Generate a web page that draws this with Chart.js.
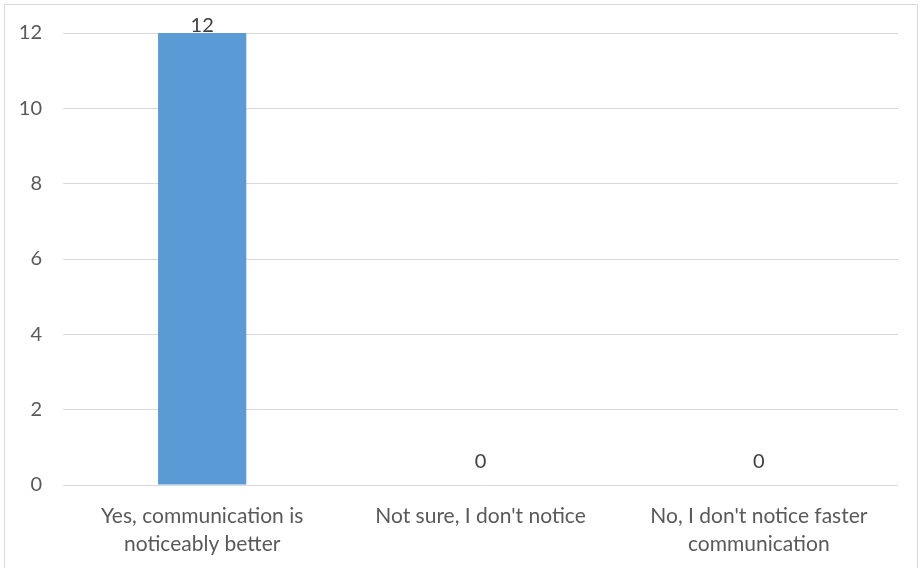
<!DOCTYPE html>
<html>
<head>
<meta charset="utf-8">
<script src="https://cdn.jsdelivr.net/npm/chart.js@4/dist/chart.umd.min.js"></script>
<style>
  html, body { margin: 0; padding: 0; background: #fff; }
  #wrap { position: relative; width: 922px; height: 568px; overflow: hidden; }
  #frame { position: absolute; left: 4px; top: 4px; width: 914px; height: 600px; border: 1px solid #d9d9d9; box-sizing: border-box; }
  canvas { position: absolute; left: 0; top: 0; }
</style>
</head>
<body>
<div id="wrap">
  <div id="frame"></div>
  <canvas id="chart" width="922" height="568"></canvas>
</div>
<script>
const categories = [
  ["Yes, communication is", "noticeably better"],
  ["Not sure, I don't notice"],
  ["No, I don't notice faster", "communication"]
];
const values = [12, 0, 0];
const yTicks = [0, 2, 4, 6, 8, 10, 12];

const FONT = "Lato, 'Open Sans', sans-serif";

// value labels above each bar, like Excel's "outside end"
const valueLabels = {
  id: "valueLabels",
  afterDatasetsDraw(chart) {
    const ctx = chart.ctx;
    const meta = chart.getDatasetMeta(0);
    ctx.save();
    ctx.font = "20px " + FONT;
    ctx.fillStyle = "#404040";
    ctx.textAlign = "center";
    ctx.textBaseline = "alphabetic";
    meta.data.forEach((bar, i) => {
      const y = Math.max(bar.y - 17, chart.chartArea.top - 1);
      ctx.fillText(String(values[i]), bar.x, y);
    });
    ctx.restore();
  }
};

new Chart(document.getElementById("chart"), {
  type: "bar",
  data: {
    labels: categories,
    datasets: [{
      data: values,
      backgroundColor: "#5B9BD5",
      borderWidth: 0,
      barPercentage: 0.317,
      categoryPercentage: 1
    }]
  },
  options: {
    responsive: false,
    animation: false,
    layout: { padding: { top: 33, right: 24, left: 0, bottom: 0 } },
    plugins: { legend: { display: false }, tooltip: { enabled: false } },
    scales: {
      x: {
        grid: { display: false, drawTicks: false },
        border: { display: false },
        ticks: {
          color: "#595959",
          font: { family: FONT, size: 21, lineHeight: 1.34 },
          padding: 17,
          maxRotation: 0,
          autoSkip: false
        },
        afterFit(scale) { scale.height = 83; }
      },
      y: {
        min: 0,
        max: 12,
        afterBuildTicks(scale) { scale.ticks = yTicks.map(v => ({ value: v })); },
        grid: { color: "#d9d9d9", lineWidth: 1, drawTicks: false },
        border: { display: false },
        ticks: {
          color: "#595959",
          font: { family: FONT, size: 20 },
          padding: 21
        },
        afterFit(scale) { scale.width = 63; }
      }
    }
  },
  plugins: [valueLabels]
});
</script>
</body>
</html>
